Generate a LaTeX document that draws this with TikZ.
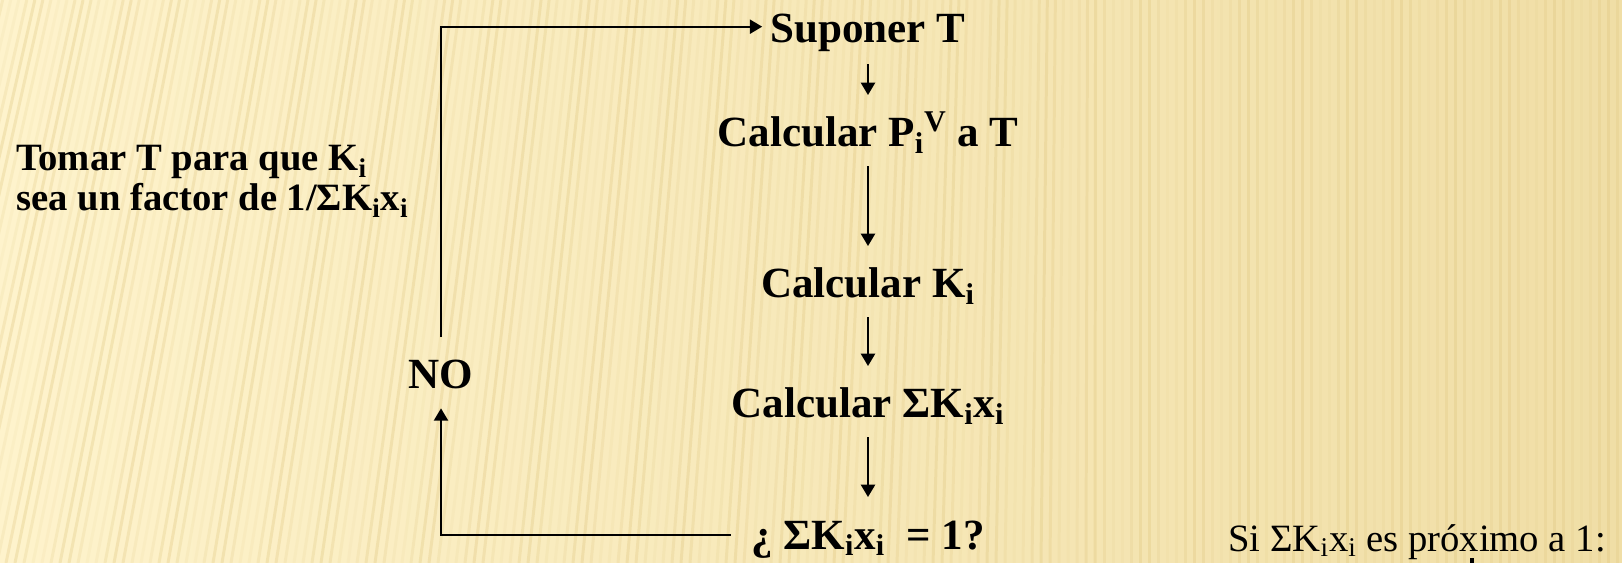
\documentclass[tikz,border=0pt]{standalone}
\usepackage{fontspec}
\setmainfont{Liberation Serif}
\usetikzlibrary{arrows.meta,positioning}

\definecolor{paper}{RGB}{254,243,204}
\definecolor{paperdk}{RGB}{240,222,166}
\definecolor{stripe}{RGB}{222,196,124}

\begin{document}
\begin{tikzpicture}[x=0.02cm,y=-0.02cm,
  flow/.style={font=\fontsize{24.5}{29}\selectfont\bfseries,text height=18pt,text depth=7.4pt,inner sep=0pt,anchor=base},
  note/.style={font=\fontsize{22}{26}\selectfont\bfseries,inner sep=0pt,anchor=base west},
  arr/.style={line width=1.1pt,-{Triangle[length=7pt,width=8pt]}},
  ln/.style={line width=1.1pt}]
  % ---------- background
  \useasboundingbox (0,0) rectangle (1622,563);
  \begin{scope}
  \clip (0,0) rectangle (1622,563);
  \fill[left color=paper,right color=paperdk] (0,0) rectangle (1622,563);
  \foreach \b in {-300,-291,...,1630} {
    \pgfmathsetmacro\s{max(0,150*(1-(\b+300)/1400))}
    \pgfmathsetmacro\op{0.2+0.12*sin(\b*7)}
    \draw[stripe,line width=1.7pt,opacity=\op] (\b,563) -- ({\b+\s},0);
  }
  \end{scope}
  % ---------- main column
  \node[flow] (sup) at (868,43) {Suponer T};
  \node[flow] (cp) at (868,147) {Calcular P\textsubscript{i}\textsuperscript{V} a T};
  \node[flow] (ck) at (868,298) {Calcular K\textsubscript{i}};
  \node[flow] (cs) at (868,418) {Calcular ΣK\textsubscript{i}x\textsubscript{i}};
  \node[flow] (q) at (868,549) {¿ ΣK\textsubscript{i}x\textsubscript{i} \ = 1?};
  \draw[arr,shorten <=0.16cm,shorten >=0.4cm] (sup) -- (cp);
  \draw[arr,shorten <=0.12cm,shorten >=0.4cm] (cp) -- (ck);
  \draw[arr,shorten <=0.12cm,shorten >=0.4cm] (ck) -- (cs);
  \draw[arr,shorten <=0.12cm,shorten >=0.4cm] (cs) -- (q);
  % ---------- loop back
  \node[flow] (no) at (441,389) {NO};
  \draw[arr,shorten <=0.4cm,shorten >=0.12cm] ([yshift=0.1cm]q.west) -| (no.south);
  \draw[arr,shorten <=0.4cm,shorten >=0.16cm] (no.north) |- ([yshift=0.14cm]sup.west);
  \node[note] (tomar) at (16,171) {Tomar T para que K\textsubscript{i}};
  \node[note] (factor) at (16,211) {sea un factor de 1/ΣK\textsubscript{i}x\textsubscript{i}};
  % ---------- next step
  \node[font=\fontsize{22}{27}\selectfont,inner sep=0pt,anchor=base west] (si) at (1228,551) {Si ΣK\textsubscript{i}x\textsubscript{i} es próximo a 1:};
  \coordinate (bartop) at (1472,558);
  \coordinate (barend) at (1472,570);
  \draw[line width=2.6pt] (bartop) -- (barend);
\end{tikzpicture}
\end{document}
